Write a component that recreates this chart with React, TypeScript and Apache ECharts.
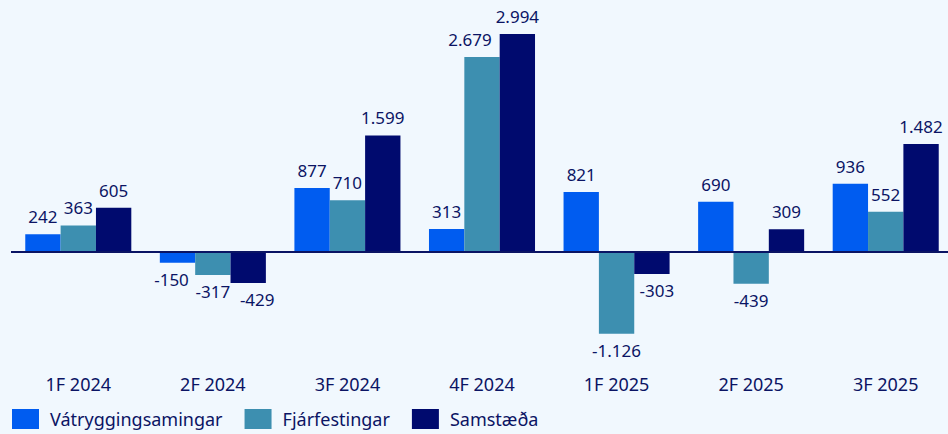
import React, { useEffect, useRef } from "react";
import * as echarts from "echarts";

const categories = ["1F 2024", "2F 2024", "3F 2024", "4F 2024", "1F 2025", "2F 2025", "3F 2025"];
const vatrygging = [242, -150, 877, 313, 821, 690, 936];
const fjarfesting = [363, -317, 710, 2679, -1126, -439, 552];
const samstaeda = [605, -429, 1599, 2994, -303, 309, 1482];
const seriesNames = ["Vátryggingsamingar", "Fjárfestingar", "Samstæða"];

// horizontal label nudges (series index -> category index -> px), to avoid overlaps
const labelNudges: Record<number, Record<number, number>> = {
  0: { 1: -6 },
  1: { 3: -12 },
  2: { 1: 9, 4: 5 },
};

const TEXT = "#0b1464";
const FONT = "'Noto Sans', 'Open Sans', sans-serif";

const fmt = (v: number) => {
  const s = Math.abs(v).toString().replace(/\B(?=(\d{3})+(?!\d))/g, ".");
  return (v < 0 ? "-" : "") + s;
};

const mkData = (arr: number[], si: number) =>
  arr.map((v, ci) => ({
    value: v,
    label: {
      position: v >= 0 ? "top" : "bottom",
      distance: v >= 0 ? 9 : 8,
      offset: [(labelNudges[si] && labelNudges[si][ci]) || 0, 0],
    },
  }));

export default function App() {
  const ref = useRef<HTMLDivElement>(null);
  useEffect(() => {
    const chart = echarts.init(ref.current!, null, { renderer: "svg" });
    const labelStyle = {
      show: true,
      color: TEXT,
      fontSize: 17,
      fontFamily: FONT,
      formatter: (p: any) => fmt(p.value),
    };
    const colors = ["#005cf0", "#3d8fb0", "#000a6e"];
    const datas = [vatrygging, fjarfesting, samstaeda];
    chart.setOption({
      animation: false,
      backgroundColor: "#f1f8fe",
      grid: { left: 11, width: 942, top: 19, bottom: 73, containLabel: false },
      legend: {
        left: 7,
        top: 404,
        itemWidth: 27,
        itemHeight: 20,
        itemGap: 22,
        icon: "rect",
        textStyle: { color: TEXT, fontSize: 18, fontFamily: FONT, padding: [0, 0, 0, 6] },
        data: seriesNames,
      },
      xAxis: {
        type: "category",
        data: categories,
        axisLine: { show: false, onZero: false },
        axisTick: { show: false },
        axisLabel: { color: TEXT, fontSize: 18, fontFamily: FONT, margin: 14 },
      },
      yAxis: {
        type: "value",
        min: -1500,
        max: 3200,
        show: false,
        splitLine: { show: false },
      },
      series: datas.map((d, i) => ({
        name: seriesNames[i],
        type: "bar",
        data: mkData(d, i),
        barGap: "0%",
        barCategoryGap: "21.2%",
        itemStyle: { color: colors[i] },
        label: labelStyle,
        ...(i === 0
          ? {
              markLine: {
                silent: true,
                symbol: "none",
                label: { show: false },
                lineStyle: { color: "#0a1464", width: 2, type: "solid" },
                data: [{ yAxis: 0 }],
              },
            }
          : {}),
      })),
    });
    return () => chart.dispose();
  }, []);
  return (
    <div style={{ position: "absolute", left: 0, top: 0, width: 948, height: 434, overflow: "hidden" }}>
      <div ref={ref} style={{ width: 960, height: 434 }} />
    </div>
  );
}
